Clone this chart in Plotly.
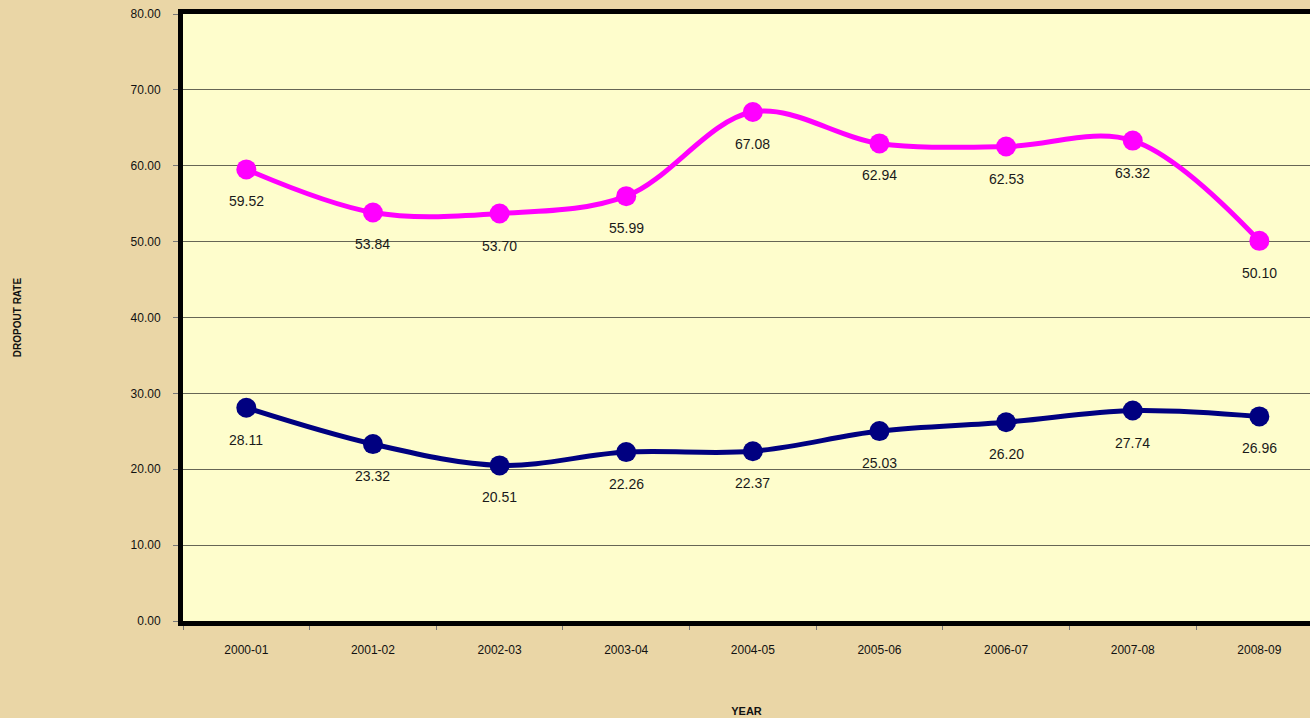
import plotly.graph_objects as go

years = ["2000-01", "2001-02", "2002-03", "2003-04", "2004-05",
         "2005-06", "2006-07", "2007-08", "2008-09"]
series_top = [59.52, 53.84, 53.70, 55.99, 67.08, 62.94, 62.53, 63.32, 50.10]
series_bottom = [28.11, 23.32, 20.51, 22.26, 22.37, 25.03, 26.20, 27.74, 26.96]
y_ticks = [0, 10, 20, 30, 40, 50, 60, 70, 80]

fig = go.Figure()
for vals, col in [(series_top, "#FF00FF"), (series_bottom, "#000080")]:
    fig.add_trace(go.Scatter(
        x=years, y=vals, mode="lines+markers",
        line=dict(color=col, width=5, shape="spline", smoothing=1.0),
        marker=dict(color=col, size=20),
        hoverinfo="skip", showlegend=False, cliponaxis=False,
    ))
    for xv, yv in zip(years, vals):
        fig.add_annotation(x=xv, y=yv, text=f"{yv:.2f}", showarrow=False,
                           yshift=-32, font=dict(family="Liberation Sans, Arial", size=14, color="#1a1a1a"))

fig.update_layout(
    width=1310, height=718,
    margin=dict(l=183, r=0, t=14, b=97),
    paper_bgcolor="#EAD6A6",
    plot_bgcolor="#FEFDCC",
    font=dict(family="Liberation Sans, Arial", size=12, color="#111111"),
    xaxis=dict(
        type="category", range=[-0.5, 8.4],
        showline=True, linecolor="#000000", linewidth=5, mirror=True,
        ticks="outside", tickson="boundaries", ticklen=4, tickcolor="#777777",
        showgrid=False, ticklabelstandoff=14,
        tickfont=dict(size=12),
        title=dict(text="<b>YEAR</b>", font=dict(size=11), standoff=52),
    ),
    yaxis=dict(
        range=[0, 80], tickvals=y_ticks,
        ticktext=[f"{v:.2f}" for v in y_ticks],
        showline=True, linecolor="#000000", linewidth=5,
        ticks="outside", ticklen=5, tickcolor="#777777",
        showgrid=True, gridcolor="#666655", gridwidth=1,
        zeroline=False, ticklabelstandoff=10,
        tickfont=dict(size=12),
        title=dict(text="<b>DROPOUT RATE</b>", font=dict(size=10), standoff=109),
    ),
)

fig.write_html("out.html", config={"displayModeBar": False},
               post_script="document.body.style.margin='0';document.body.style.overflow='hidden';")
